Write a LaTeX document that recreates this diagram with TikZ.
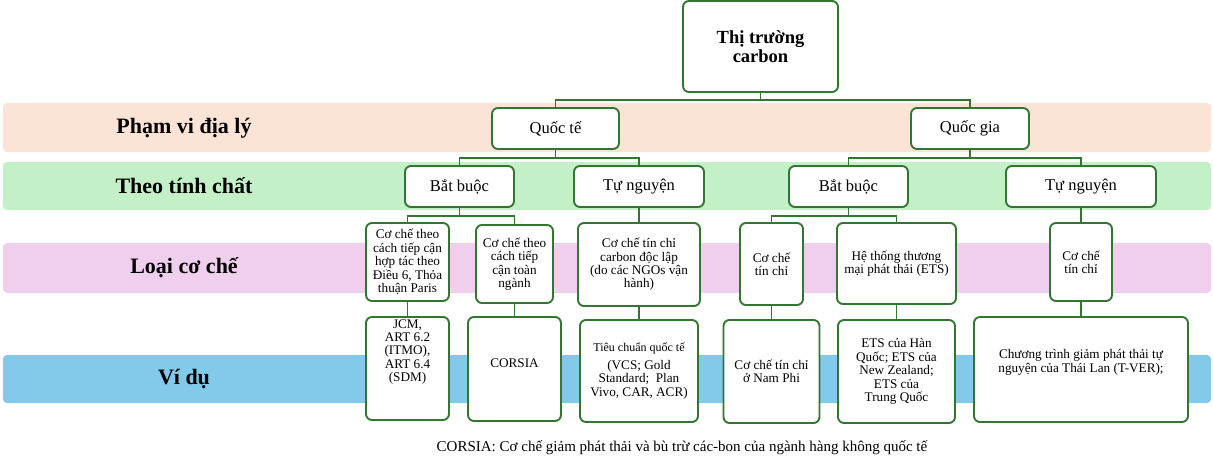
\documentclass[tikz,border=0pt]{standalone}
\usepackage{fontspec}
\setmainfont{Liberation Serif}
\definecolor{lgreen}{RGB}{50,118,50}
\definecolor{bandA}{RGB}{251,228,214}
\definecolor{bandB}{RGB}{196,240,200}
\definecolor{bandC}{RGB}{240,206,238}
\definecolor{bandD}{RGB}{130,201,234}
\begin{document}
\begin{tikzpicture}[x=1pt,y=-1pt,
  band/.style={fill=#1,draw=none,rounded corners=4pt},
  bandlabel/.style={font=\fontsize{22}{24}\selectfont\bfseries,anchor=center},
  box/.style={draw=lgreen,line width=1.9pt,fill=white,rounded corners=6pt,inner sep=0pt,align=center},
  lvl/.style={box,font=\fontsize{16.5}{18}\selectfont,minimum height=41pt},
  small/.style={box,font=\fontsize{13.2}{13.4}\selectfont},
  txt/.style={align=center,inner sep=0pt,font=\fontsize{13.2}{13.4}\selectfont},
  conn/.style={draw=lgreen,line width=1.6pt}]
\useasboundingbox (0,0) rectangle (1213,458);
% bands
\fill[band=bandA] (3,103) rectangle (1211,152);
\fill[band=bandB] (3,162) rectangle (1211,210);
\fill[band=bandC] (3,243) rectangle (1211,293);
\fill[band=bandD] (3,355) rectangle (1211,403);
\node[bandlabel] (lA) at (184,128) {Phạm vi địa lý};
\node[bandlabel] (lB) at (184,186) {Theo tính chất};
\node[bandlabel] (lC) at (184,268) {Loại cơ chế};
\node[bandlabel] (lD) at (184,379) {Ví dụ};
% connectors
\path[conn] (760.5,92) -- ++(0,8) -| (555.5,108);
\path[conn] (760.5,92) -- ++(0,8) -| (970,108);
% nodes
\node[box,font=\fontsize{18.5}{19}\selectfont\bfseries,minimum width=155pt,minimum height=91pt] (root) at (760.5,46.5) {Thị trường\\carbon};
\node[lvl,minimum width=127pt] (qt) at (555.5,128.5) {Quốc tế};
\node[lvl,minimum width=118pt] (qg) at (970,128.5) {Quốc gia};
\node[lvl,minimum width=109pt] (bb1) at (459.5,186.5) {Bắt buộc};
\node[lvl,minimum width=130pt] (tn1) at (639,186.5) {Tự nguyện};
\node[lvl,minimum width=119pt] (bb2) at (848.5,186.5) {Bắt buộc};
\node[lvl,minimum width=150pt] (tn2) at (1081,186.5) {Tự nguyện};
% mechanisms
\node[small,minimum width=83pt,minimum height=78pt] (m1) at (407.5,262) {Cơ chế theo\\cách tiếp cận\\hợp tác theo\\Điều 6, Thỏa\\thuận Paris};
\node[small,minimum width=77pt,minimum height=78pt] (m2) at (514.5,264) {Cơ chế theo\\cách tiếp\\cận toàn\\ngành};
\node[small,minimum width=122pt,minimum height=83pt] (m3) at (639,264.5) {Cơ chế tín chỉ\\carbon độc lập\\(do các NGOs vận\\hành)};
\node[small,minimum width=63pt,minimum height=82pt] (m4) at (771.5,264) {Cơ chế\\tín chỉ};
\node[small,minimum width=119pt,minimum height=81pt] (m5) at (896.5,263.5) {Hệ thống thương\\mại phát thải (ETS)};
\node[small,minimum width=62pt,minimum height=78pt] (m6) at (1081,262) {Cơ chế\\tín chỉ};
% examples
\node[small,minimum width=83pt,minimum height=103pt] (e1) at (407.5,368.5) {};
\node[txt] (e1t) at (407.5,352) {JCM,\\ART 6.2\\(ITMO),\\ART 6.4\\(SDM)};
\node[small,minimum width=93pt,minimum height=104pt] (e2) at (514.5,369) {};
\node[txt] (e2t) at (514.5,363) {CORSIA};
\node[small,minimum width=118pt,minimum height=102pt] (e3) at (639,371) {{\fontsize{12}{13}\selectfont Tiêu chuẩn quốc tế}\\[4pt](VCS; Gold\\Standard;\ \ Plan\\Vivo, CAR, ACR)};
\node[small,minimum width=96pt,minimum height=103pt] (e4) at (771.5,371.5) {Cơ chế tín chỉ\\ở Nam Phi};
\node[small,minimum width=117pt,minimum height=103pt] (e5) at (896.5,371.5) {ETS của Hàn\\Quốc; ETS của\\New Zealand;\\ETS của\\Trung Quốc};
\node[small,minimum width=214pt,minimum height=105pt] (e6) at (1081,369.5) {};
\node[txt] (e6t) at (1081,362.5) {Chương trình giảm phát thải tự\\nguyện của Thái Lan (T-VER);};
% caption
\node[txt,font=\fontsize{15}{16}\selectfont] (cap) at (682,448) {CORSIA: Cơ chế giảm phát thải và bù trừ các-bon của ngành hàng không quốc tế};
% connectors
\path[conn] (qt.south) -- ++(0,8) -| (bb1.north);
\path[conn] (qt.south) -- ++(0,8) -| (tn1.north);
\path[conn] (qg.south) -- ++(0,8) -| (bb2.north);
\path[conn] (qg.south) -- ++(0,8) -| (tn2.north);
\path[conn] (bb1.south) -- ++(0,8) -| (m1.north);
\path[conn] (bb1.south) -- ++(0,8) -| (m2.north);
\path[conn] (tn1.south) -- (m3.north);
\path[conn] (bb2.south) -- ++(0,8) -| (m4.north);
\path[conn] (bb2.south) -- ++(0,8) -| (m5.north);
\path[conn] (tn2.south) -- (m6.north);
\path[conn] (m1.south) -- (e1.north);
\path[conn] (m2.south) -- (e2.north);
\path[conn] (m3.south) -- (e3.north);
\path[conn] (m4.south) -- (e4.north);
\path[conn] (m5.south) -- (e5.north);
\path[conn] (m6.south) -- (e6.north);
\end{tikzpicture}
\end{document}
